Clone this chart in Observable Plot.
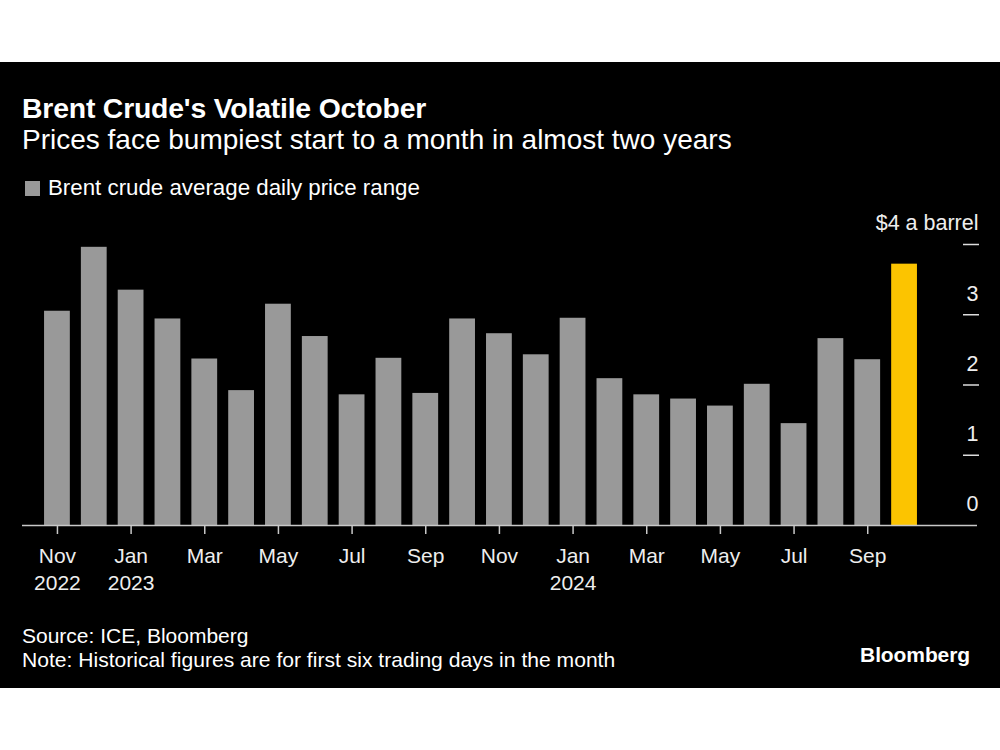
<!DOCTYPE html>
<html>
<head>
<meta charset="utf-8">
<script src="https://cdn.jsdelivr.net/npm/d3@7"></script>
<script src="https://cdn.jsdelivr.net/npm/@observablehq/plot@0.6"></script>
<style>
  html, body { margin: 0; padding: 0; background: #ffffff; width: 1000px; height: 750px; overflow: hidden; }
  #panel { position: absolute; left: 0; top: 62px; width: 1000px; height: 626px; background: #000000; }
  .t { position: absolute; line-height: 1; white-space: nowrap; color: #ffffff; font-family: "Liberation Sans", Arial, sans-serif; }
  #title { left: 22px; top: 94px; font-size: 28.4px; font-weight: bold; letter-spacing: -0.2px; }
  #subtitle { left: 22px; top: 126px; font-size: 28px; }
  #legend { left: 48px; top: 177px; font-size: 22.3px; }
  #swatch { position: absolute; left: 25px; top: 181px; width: 15px; height: 15px; background: #999999; }
  #source { left: 22px; top: 625px; font-size: 21px; }
  #note { left: 22px; top: 649px; font-size: 21.1px; }
  #logo { right: 30px; top: 644px; font-size: 21px; font-weight: bold; letter-spacing: -0.1px; }
  #chart { position: absolute; left: 0; top: 205px; }
</style>
</head>
<body>
<div id="panel"></div>
<div class="t" id="title">Brent Crude's Volatile October</div>
<div class="t" id="subtitle">Prices face bumpiest start to a month in almost two years</div>
<div id="swatch"></div>
<div class="t" id="legend">Brent crude average daily price range</div>
<div id="chart"></div>
<div class="t" id="source">Source: ICE, Bloomberg</div>
<div class="t" id="note">Note: Historical figures are for first six trading days in the month</div>
<div class="t" id="logo">Bloomberg</div>
<script>
const months = ["2022-11","2022-12","2023-01","2023-02","2023-03","2023-04","2023-05","2023-06","2023-07","2023-08","2023-09","2023-10",
                "2023-11","2023-12","2024-01","2024-02","2024-03","2024-04","2024-05","2024-06","2024-07","2024-08","2024-09","2024-10"];
const ranges = [3.05, 3.96, 3.35, 2.94, 2.37, 1.92, 3.15, 2.69, 1.86, 2.38, 1.88, 2.94,
                2.73, 2.43, 2.95, 2.09, 1.86, 1.80, 1.70, 2.01, 1.45, 2.66, 2.36, 3.72];
const highlightMonth = "2024-10";
const xTicks = ["2022-11","2023-01","2023-03","2023-05","2023-07","2023-09","2023-11","2024-01","2024-03","2024-05","2024-07","2024-09"];
const xTickLabels = ["Nov\n2022","Jan\n2023","Mar","May","Jul","Sep","Nov","Jan\n2024","Mar","May","Jul","Sep"];
const yTicks = [0, 1, 2, 3, 4];
const yTickLabels = ["0", "1", "2", "3", "$4 a barrel"];

const data = months.map((m, i) => ({month: m, value: ranges[i]}));
const gray = "#999999", yellow = "#fcc400";

const chart = Plot.plot({
  width: 1000,
  height: 400,
  marginTop: 39,
  marginBottom: 80,
  marginLeft: 33,
  marginRight: 72,
  style: {background: "transparent", color: "#eeeeee", fontFamily: "Liberation Sans, Arial, sans-serif", fontSize: "21px"},
  x: {domain: months, padding: 0.3, round: false},
  y: {domain: [0, 4]},
  marks: [
    Plot.barY(data, {x: "month", y: "value", fill: d => d.month === highlightMonth ? yellow : gray}),
    Plot.ruleY([0], {stroke: "#c8c8c8", strokeWidth: 1.5, insetLeft: -11, insetRight: -49}),
    Plot.axisX({ticks: xTicks, tickSize: 9, tickPadding: 9, stroke: "#c8c8c8", strokeWidth: 1.5,
      tickFormat: d => xTickLabels[xTicks.indexOf(d)], fontSize: 21, lineHeight: 1.29, fill: "#eeeeee", label: null}),
    Plot.axisY({anchor: "right", ticks: yTicks.slice(1), tickSize: 16, dx: 34, tickFormat: () => "",
      stroke: "#dddddd", strokeWidth: 1.5, label: null}),
    Plot.axisY({anchor: "right", ticks: yTicks, tickSize: 0, tickPadding: 0, dx: 50, dy: -21, textAnchor: "end",
      tickFormat: d => yTickLabels[yTicks.indexOf(d)], fontSize: 21.5, fill: "#eeeeee", label: null})
  ]
});
document.getElementById("chart").appendChild(chart);
</script>
</body>
</html>
